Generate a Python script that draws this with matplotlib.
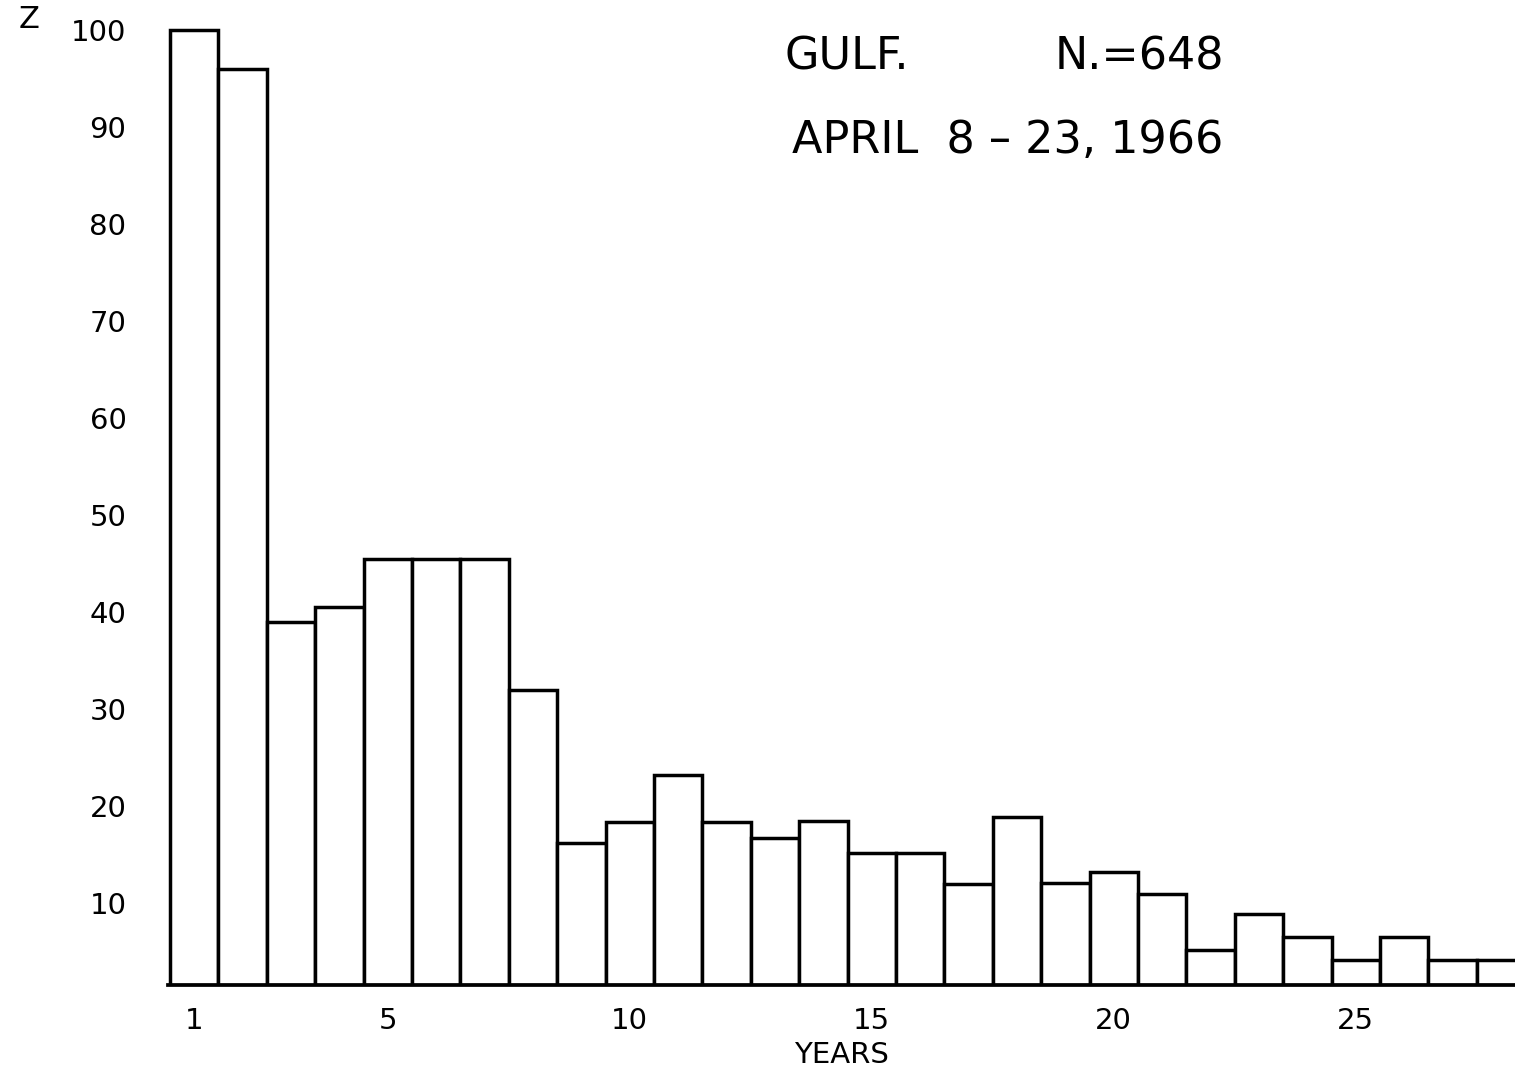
import matplotlib
matplotlib.use('Agg')
import matplotlib.pyplot as plt
import numpy as np

# age distribution, Gulf sample, April 8-23 1966
years = list(range(1, 29))
counts = [100, 96, 39, 40.5, 45.5, 45.5, 45.5, 32,
          16.2, 18.4, 23.2, 18.4, 16.7, 18.5, 15.2, 15.2,
          12, 18.9, 12.1, 13.2, 10.9, 5.2, 8.9, 6.5,
          4.1, 6.5, 4.1, 4.1]
xtick_pos = [1, 5, 10, 15, 20, 25]
xtick_lab = ['1', '5', '10', '15', '20', '25']
ytick_pos = [10, 20, 30, 40, 50, 60, 70, 80, 90, 100]

plt.rcParams['font.family'] = 'DejaVu Sans'

fig = plt.figure(figsize=(15.15, 10.7), dpi=100)
ax = fig.add_axes([0.111, 0.0794, 0.889, 0.9106])

ax.bar(years, counts, width=1.0, color='white', edgecolor='black',
       linewidth=2.5, align='center')

ax.set_xlim(0.463, 28.29)
ax.set_ylim(1.55, 102)

for s in ['top', 'right', 'left']:
    ax.spines[s].set_visible(False)
ax.spines['bottom'].set_linewidth(2.7)

ax.set_xticks(xtick_pos)
ax.set_xticklabels(xtick_lab)
ax.set_yticks(ytick_pos)
ax.set_yticklabels([str(v) for v in ytick_pos])
ax.tick_params(axis='x', length=0, pad=16, labelsize=21)
ax.tick_params(axis='y', length=0, pad=30, labelsize=21)

ax.set_xlabel('YEARS', fontsize=21, labelpad=4)

# header lettering
fig.text(0.518, 0.947, 'GULF.', fontsize=32, va='center', ha='left')
fig.text(0.696, 0.947, 'N.=648', fontsize=32, va='center', ha='left')
fig.text(0.523, 0.869, 'APRIL  8 \u2013 23, 1966', fontsize=32,
         va='center', ha='left')
fig.text(0.012, 0.982, 'Z', fontsize=22, va='center', ha='left')

fig.savefig('out.png', dpi=100, facecolor='white')
